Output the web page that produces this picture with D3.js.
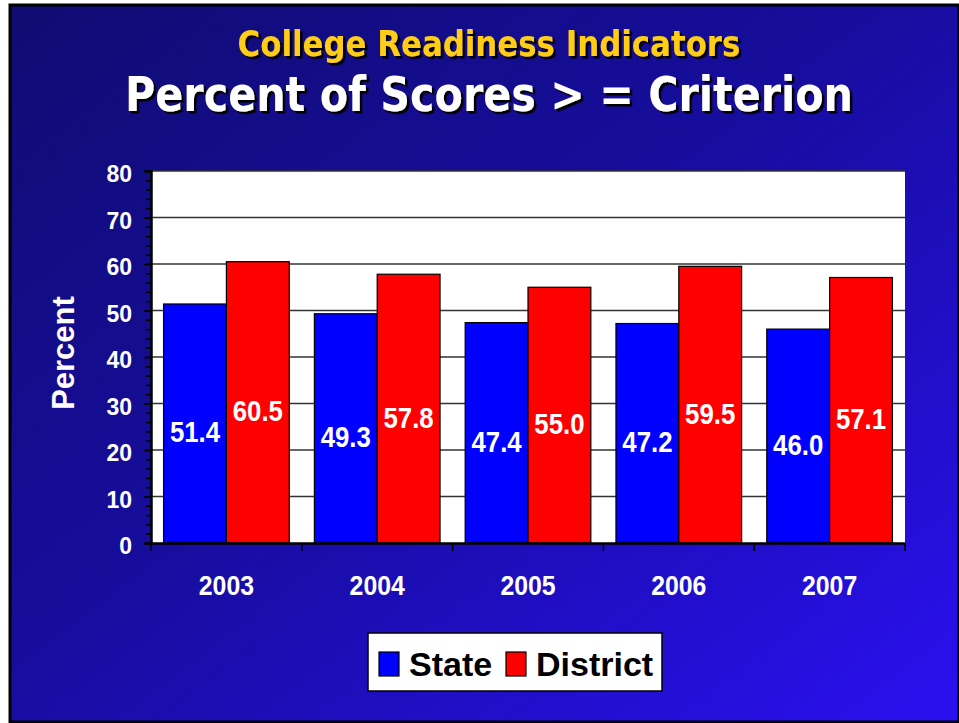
<!DOCTYPE html>
<html>
<head>
<meta charset="utf-8">
<script src="https://cdn.jsdelivr.net/npm/d3@7"></script>
<style>
  html, body { margin: 0; padding: 0; background: #fff; }
  svg { display: block; }
</style>
</head>
<body>
<div id="chart"></div>
<script>
// data
var years = ["2003", "2004", "2005", "2006", "2007"];
var seriesNames = ["State", "District"];
var stateValues = [51.4, 49.3, 47.4, 47.2, 46.0];
var districtValues = [60.5, 57.8, 55.0, 59.5, 57.1];
var yTicks = [0, 10, 20, 30, 40, 50, 60, 70, 80];
var seriesColors = ["#0000ff", "#ff0000"];

var W = 959, H = 723;
var plot = {left: 151, top: 171, right: 905, bottom: 543};

var svg = d3.select("#chart").append("svg")
    .attr("width", W).attr("height", H);

// background gradient + title shadow
var defs = svg.append("defs");
var grad = defs.append("linearGradient").attr("id", "bg")
    .attr("x1", "0").attr("y1", "0").attr("x2", "1").attr("y2", "1");
grad.append("stop").attr("offset", "0%").attr("stop-color", "#100c72");
grad.append("stop").attr("offset", "45%").attr("stop-color", "#160d9c");
grad.append("stop").attr("offset", "100%").attr("stop-color", "#2a10f0");
defs.append("filter").attr("id", "shadow")
    .attr("x", "-10%").attr("y", "-30%").attr("width", "120%").attr("height", "160%")
  .append("feDropShadow").attr("dx", 2.5).attr("dy", 2.5).attr("stdDeviation", 0.4)
    .attr("flood-color", "#000").attr("flood-opacity", 1);

svg.append("rect").attr("x", 0).attr("y", 0).attr("width", W).attr("height", H).attr("fill", "#fff");
svg.append("rect").attr("x", 10).attr("y", 5).attr("width", W - 10).attr("height", H - 6)
    .attr("fill", "url(#bg)").attr("stroke", "#000").attr("stroke-width", 3);

// titles: squeeze horizontally to the measured width of the original
function title(txt, x, y, size, len, color) {
    var gt = svg.append("g").attr("filter", "url(#shadow)");
    var t = gt.append("text")
        .attr("text-anchor", "middle")
        .style("font-family", "'DejaVu Sans', sans-serif")
        .style("font-weight", "bold").style("font-size", size + "px")
        .style("fill", color).text(txt);
    var sx = len / t.node().getComputedTextLength();
    t.attr("transform", "translate(" + x + "," + y + ") scale(" + sx + ",1)");
}
title("College Readiness Indicators", 489, 56, 36, 503, "#ffcc14");
title("Percent of Scores > = Criterion", 489, 111, 48, 728, "#ffffff");

// scales
var x0 = d3.scaleBand().domain(years).range([plot.left, plot.right]).padding(0);
var x1 = d3.scaleBand().domain(seriesNames).range([0, x0.bandwidth()])
    .paddingInner(0).paddingOuter(0.2);
var y = d3.scaleLinear().domain([0, 80]).range([plot.bottom, plot.top]);

var g = svg.append("g");

// plot area
g.append("rect").attr("x", plot.left).attr("y", plot.top)
    .attr("width", plot.right - plot.left).attr("height", plot.bottom - plot.top)
    .attr("fill", "#fff");

// gridlines
g.selectAll("line.grid").data(yTicks.filter(function(d) { return d > 0; }))
  .enter().append("line").attr("class", "grid")
    .attr("x1", plot.left).attr("x2", plot.right)
    .attr("y1", function(d) { return y(d); }).attr("y2", function(d) { return y(d); })
    .attr("stroke", "#333").attr("stroke-width", 1.5);

// bars
var rows = years.map(function(yr, i) {
    return {year: yr, vals: [stateValues[i], districtValues[i]]};
});
var grp = g.selectAll("g.year").data(rows).enter().append("g")
    .attr("transform", function(d) { return "translate(" + x0(d.year) + ",0)"; });

grp.selectAll("rect").data(function(d) {
        return d.vals.map(function(v, k) { return {name: seriesNames[k], v: v, k: k}; });
    })
  .enter().append("rect")
    .attr("x", function(d) { return x1(d.name); })
    .attr("y", function(d) { return y(d.v); })
    .attr("width", x1.bandwidth())
    .attr("height", function(d) { return y(0) - y(d.v); })
    .attr("fill", function(d) { return seriesColors[d.k]; })
    .attr("stroke", "#000").attr("stroke-width", 1.2);

// value labels, slightly condensed like the original
grp.selectAll("g.lab").data(function(d) {
        return d.vals.map(function(v, k) { return {name: seriesNames[k], v: v}; });
    })
  .enter().append("g").attr("class", "lab")
    .attr("transform", function(d) {
        var cx = x1(d.name) + x1.bandwidth() / 2;
        var cy = (y(d.v) + y(0)) / 2 + 8;
        return "translate(" + cx + "," + (cy + 11) + ")";
    })
  .append("text")
    .attr("text-anchor", "middle").attr("transform", "scale(0.86,1)")
    .style("font-family", "'Liberation Sans', Arial, sans-serif")
    .style("font-weight", "bold").style("font-size", "30px")
    .style("fill", "#fff")
    .text(function(d) { return d3.format(".1f")(d.v); });

// y axis: major + minor ticks
var yAxis = d3.axisLeft(y).tickValues(yTicks).tickSize(7).tickFormat("");
var yMinor = d3.axisLeft(y).tickValues(d3.range(0, 81, 2)).tickSize(5).tickFormat("");
var ya = g.append("g").attr("transform", "translate(" + plot.left + ",0)").call(yMinor);
var yb = g.append("g").attr("transform", "translate(" + plot.left + ",0)").call(yAxis);
[ya, yb].forEach(function(a) {
    a.select(".domain").attr("stroke", "#000").attr("stroke-width", 2);
    a.selectAll(".tick line").attr("stroke", "#000").attr("stroke-width", 1.5);
});

g.selectAll("text.ytick").data(yTicks).enter().append("text").attr("class", "ytick")
    .attr("x", 132).attr("y", function(d) { return y(d) + 11; })
    .attr("text-anchor", "end")
    .style("font-family", "'Liberation Sans', Arial, sans-serif")
    .style("font-weight", "bold").style("font-size", "23px").style("fill", "#fff")
    .text(function(d) { return d; });

// x axis
var xAxis = d3.axisBottom(x0).tickSize(0).tickFormat("");
var xa = g.append("g").attr("transform", "translate(0," + plot.bottom + ")").call(xAxis);
xa.select(".domain").attr("stroke", "#000").attr("stroke-width", 2.5);
var bounds = years.map(function(yr) { return x0(yr); }).concat([plot.right]);
g.selectAll("line.xt").data(bounds).enter().append("line")
    .attr("x1", function(d) { return d; }).attr("x2", function(d) { return d; })
    .attr("y1", plot.bottom).attr("y2", plot.bottom + 8)
    .attr("stroke", "#000").attr("stroke-width", 1.5);

g.selectAll("g.xl").data(years).enter().append("g")
    .attr("transform", function(d) {
        return "translate(" + (x0(d) + x0.bandwidth() / 2) + ",595)";
    })
  .append("text").attr("text-anchor", "middle").attr("transform", "scale(0.92,1)")
    .style("font-family", "'Liberation Sans', Arial, sans-serif")
    .style("font-weight", "bold").style("font-size", "27px").style("fill", "#fff")
    .text(function(d) { return d; });

// y axis title
svg.append("text")
    .attr("transform", "translate(74,353) rotate(-90)")
    .attr("text-anchor", "middle")
    .style("font-family", "'Liberation Sans', Arial, sans-serif")
    .style("font-weight", "bold").style("font-size", "31px").style("fill", "#fff")
    .text("Percent");

// legend
var leg = svg.append("g");
leg.append("rect").attr("x", 368).attr("y", 633).attr("width", 294).attr("height", 58)
    .attr("fill", "#fff").attr("stroke", "#000").attr("stroke-width", 1.5);
var legX = [379, 506];
seriesNames.forEach(function(name, k) {
    leg.append("rect").attr("x", legX[k]).attr("y", 652).attr("width", 20).attr("height", 24)
        .attr("fill", seriesColors[k]).attr("stroke", "#000").attr("stroke-width", 1.2);
    leg.append("text").attr("x", legX[k] + 30).attr("y", 676)
        .style("font-family", "'Liberation Sans', Arial, sans-serif")
        .style("font-weight", "bold").style("font-size", "34px").style("fill", "#000")
        .text(name);
});
</script>
</body>
</html>
